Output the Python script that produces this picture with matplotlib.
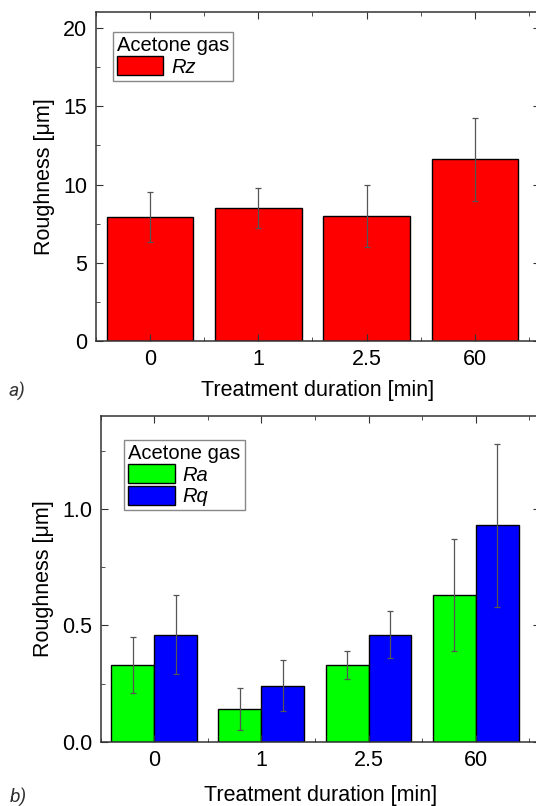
import matplotlib
matplotlib.use('Agg')
import matplotlib.pyplot as plt
import numpy as np
from matplotlib.ticker import MultipleLocator

plt.rcParams['font.family'] = ['Liberation Sans', 'DejaVu Sans']

durations = ['0', '1', '2.5', '60']

rz = [7.9, 8.5, 8.0, 11.6]
rz_err = [1.6, 1.3, 2.0, 2.65]

ra = [0.33, 0.14, 0.33, 0.63]
ra_err = [0.12, 0.09, 0.06, 0.24]
rq = [0.46, 0.24, 0.46, 0.93]
rq_err = [0.17, 0.11, 0.10, 0.35]

fig = plt.figure(figsize=(5.36, 8.06), dpi=100)
ax1 = fig.add_axes([0.1785, 0.5769, 0.8290, 0.4078])
ax2 = fig.add_axes([0.1877, 0.0798, 0.8198, 0.4041])

spine_col = '#333333'
err_kw = dict(ecolor='#555555', elinewidth=0.9, capsize=2.5, capthick=0.9)


def style(ax, xpad):
    for s in ax.spines.values():
        s.set_color(spine_col)
        s.set_linewidth(1.1)
    ax.tick_params(which='both', direction='in', top=True, right=True,
                   color=spine_col, labelsize=15.5, pad=6)
    ax.tick_params(which='major', length=5)
    ax.tick_params(which='minor', length=3)
    ax.set_xticks(range(len(durations)))
    ax.set_xticklabels(durations)
    ax.set_xlim(-0.5, 3.6)
    ax.set_xticks(np.arange(-0.5, 3.6, 1), minor=True)
    ax.set_xlabel('Treatment duration [min]', fontsize=15.5, labelpad=xpad)
    ax.set_ylabel('Roughness [\u03bcm]', fontsize=15.5, labelpad=6)


x = np.arange(len(durations))

# a)
ax1.bar(x, rz, width=0.8, color='#ff0000', edgecolor='black', linewidth=1,
        label='Rz', yerr=rz_err, error_kw=err_kw)
style(ax1, 7)
ax1.set_ylim(0, 21)
ax1.yaxis.set_major_locator(MultipleLocator(5))
ax1.yaxis.set_minor_locator(MultipleLocator(2.5))

# b)
ax2.bar(x - 0.2, ra, width=0.4, color='#00ff00', edgecolor='black', linewidth=1,
        label='Ra', yerr=ra_err, error_kw=err_kw)
ax2.bar(x + 0.2, rq, width=0.4, color='#0000ff', edgecolor='black', linewidth=1,
        label='Rq', yerr=rq_err, error_kw=err_kw)
style(ax2, 10)
ax2.set_ylim(0, 1.4)
ax2.yaxis.set_major_locator(MultipleLocator(0.5))
ax2.yaxis.set_minor_locator(MultipleLocator(0.25))
ax2.yaxis.set_major_formatter(matplotlib.ticker.FormatStrFormatter('%.1f'))

for ax, anchor in [(ax1, (0.038, 0.94)), (ax2, (0.054, 0.926))]:
    leg = ax.legend(title='Acetone gas', loc='upper left', bbox_to_anchor=anchor,
                    fontsize=14.5, title_fontsize=14.5, alignment='left',
                    fancybox=False, framealpha=1, edgecolor='#888888',
                    handlelength=2.3, handleheight=1.1, handletextpad=0.4,
                    labelspacing=0.05, borderpad=0.2, borderaxespad=0)
    leg.get_frame().set_linewidth(1)
    for t in leg.get_texts():
        t.set_style('italic')

fig.text(0.015, 0.508, 'a)', fontsize=14, style='italic', color='#333333',
         family=['Roboto', 'DejaVu Sans'])
fig.text(0.018, 0.004, 'b)', fontsize=14, style='italic', color='#333333',
         family=['Roboto', 'DejaVu Sans'])

fig.savefig('out.png', dpi=100)
